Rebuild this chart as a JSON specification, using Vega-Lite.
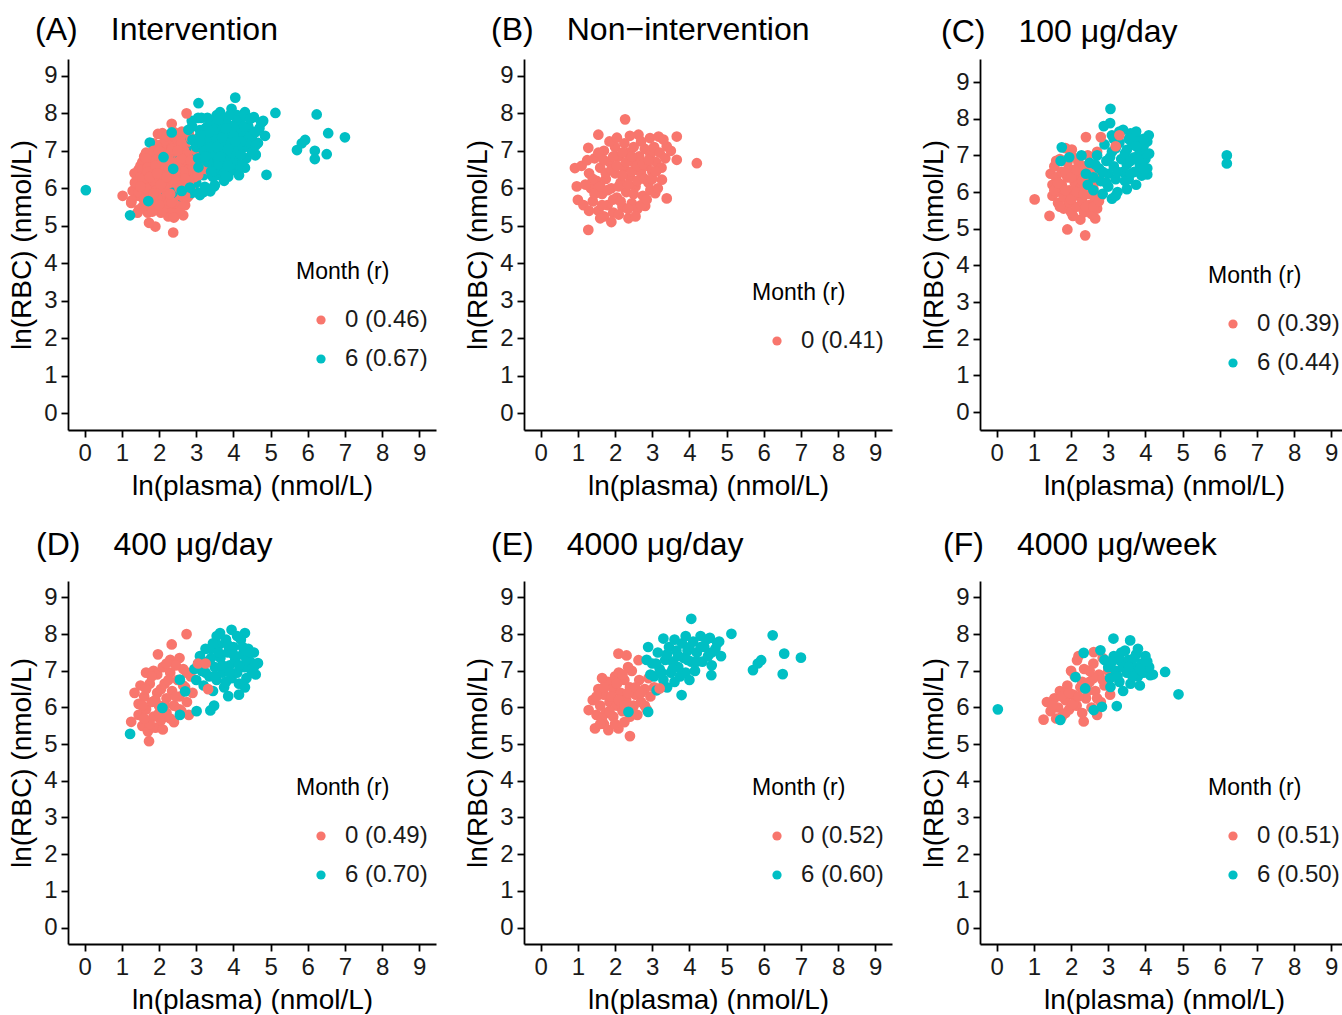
{
"$schema": "https://vega.github.io/schema/vega-lite/v6.json",
"background": "white",
"padding": {"left": 8, "top": 14, "right": 0, "bottom": 0},
"datasets": {"pts": [
{"g":"C","m":"0","x":1.02,"y":5.80},{"g":"C","m":"0","x":1.42,"y":5.35},{"g":"C","m":"0","x":1.90,"y":4.98},{"g":"C","m":"0","x":2.38,"y":4.82},{"g":"C","m":"0","x":2.40,"y":7.50},{"g":"C","m":"0","x":1.85,"y":7.20},{"g":"C","m":"0","x":2.02,"y":7.16},{"g":"C","m":"0","x":2.65,"y":5.28},{"g":"C","m":"0","x":2.25,"y":5.25},{"g":"C","m":"0","x":2.05,"y":5.35},
{"g":"C","m":"0","x":1.45,"y":6.50},{"g":"C","m":"0","x":1.50,"y":6.20},{"g":"C","m":"0","x":1.50,"y":5.90},{"g":"C","m":"0","x":1.55,"y":6.70},{"g":"C","m":"0","x":1.60,"y":6.40},{"g":"C","m":"0","x":1.60,"y":6.00},{"g":"C","m":"0","x":1.65,"y":5.70},{"g":"C","m":"0","x":1.70,"y":6.90},{"g":"C","m":"0","x":1.75,"y":6.55},{"g":"C","m":"0","x":1.75,"y":6.20},{"g":"C","m":"0","x":1.80,"y":5.85},{"g":"C","m":"0","x":1.80,"y":5.55},{"g":"C","m":"0","x":1.90,"y":6.80},{"g":"C","m":"0","x":1.90,"y":6.40},{"g":"C","m":"0","x":1.95,"y":6.05},{"g":"C","m":"0","x":1.95,"y":5.70},{"g":"C","m":"0","x":2.00,"y":5.45},{"g":"C","m":"0","x":2.05,"y":6.95},{"g":"C","m":"0","x":2.05,"y":6.60},{"g":"C","m":"0","x":2.10,"y":6.25},{"g":"C","m":"0","x":2.10,"y":5.90},{"g":"C","m":"0","x":2.15,"y":5.60},{"g":"C","m":"0","x":2.20,"y":6.80},{"g":"C","m":"0","x":2.25,"y":6.45},{"g":"C","m":"0","x":2.25,"y":6.10},{"g":"C","m":"0","x":2.30,"y":5.75},{"g":"C","m":"0","x":2.35,"y":5.45},{"g":"C","m":"0","x":2.40,"y":6.30},{"g":"C","m":"0","x":2.45,"y":5.95},{"g":"C","m":"0","x":2.50,"y":5.65},{"g":"C","m":"0","x":2.55,"y":6.60},{"g":"C","m":"0","x":2.55,"y":5.40},{"g":"C","m":"0","x":2.60,"y":6.10},{"g":"C","m":"0","x":2.65,"y":5.80},{"g":"C","m":"0","x":2.70,"y":5.55},{"g":"C","m":"0","x":2.75,"y":6.40},{"g":"C","m":"0","x":2.80,"y":5.90},{"g":"C","m":"0","x":2.45,"y":7.00},{"g":"C","m":"0","x":2.70,"y":7.10},
{"g":"C","m":"0","x":1.55,"y":6.05},{"g":"C","m":"0","x":1.65,"y":6.25},{"g":"C","m":"0","x":1.70,"y":5.60},{"g":"C","m":"0","x":1.85,"y":6.55},{"g":"C","m":"0","x":1.85,"y":6.05},{"g":"C","m":"0","x":2.00,"y":6.40},{"g":"C","m":"0","x":2.00,"y":5.80},{"g":"C","m":"0","x":2.15,"y":6.60},{"g":"C","m":"0","x":2.15,"y":6.00},{"g":"C","m":"0","x":2.30,"y":6.30},{"g":"C","m":"0","x":2.35,"y":5.95},{"g":"C","m":"0","x":2.40,"y":5.60},{"g":"C","m":"0","x":2.50,"y":6.20},{"g":"C","m":"0","x":2.60,"y":5.60},{"g":"C","m":"0","x":2.65,"y":6.30},{"g":"C","m":"0","x":2.75,"y":5.75},{"g":"C","m":"0","x":1.60,"y":6.85},{"g":"C","m":"0","x":2.35,"y":6.70},
{"g":"C","m":"6","x":3.06,"y":8.27},{"g":"C","m":"6","x":2.88,"y":7.80},{"g":"C","m":"6","x":3.05,"y":7.88},{"g":"C","m":"6","x":4.09,"y":7.55},{"g":"C","m":"6","x":4.05,"y":7.38},{"g":"C","m":"6","x":6.19,"y":7.00},{"g":"C","m":"6","x":6.19,"y":6.78},{"g":"C","m":"6","x":1.75,"y":7.22},{"g":"C","m":"6","x":1.72,"y":6.85},{"g":"C","m":"6","x":1.95,"y":6.95},{"g":"C","m":"6","x":3.10,"y":5.82},{"g":"C","m":"6","x":3.50,"y":6.08},{"g":"C","m":"6","x":4.05,"y":6.48},{"g":"C","m":"6","x":2.28,"y":7.00},
{"g":"C","m":"6","x":2.40,"y":6.50},{"g":"C","m":"6","x":2.45,"y":6.20},{"g":"C","m":"6","x":2.50,"y":6.80},{"g":"C","m":"6","x":2.60,"y":6.40},{"g":"C","m":"6","x":2.60,"y":6.05},{"g":"C","m":"6","x":2.70,"y":7.00},{"g":"C","m":"6","x":2.75,"y":6.65},{"g":"C","m":"6","x":2.80,"y":6.30},{"g":"C","m":"6","x":2.85,"y":5.95},{"g":"C","m":"6","x":2.90,"y":7.30},{"g":"C","m":"6","x":2.95,"y":6.85},{"g":"C","m":"6","x":3.00,"y":6.50},{"g":"C","m":"6","x":3.00,"y":6.15},{"g":"C","m":"6","x":3.10,"y":7.55},{"g":"C","m":"6","x":3.10,"y":7.10},{"g":"C","m":"6","x":3.15,"y":6.70},{"g":"C","m":"6","x":3.20,"y":6.35},{"g":"C","m":"6","x":3.25,"y":6.00},{"g":"C","m":"6","x":3.30,"y":7.35},{"g":"C","m":"6","x":3.35,"y":6.90},{"g":"C","m":"6","x":3.40,"y":6.55},{"g":"C","m":"6","x":3.40,"y":7.70},{"g":"C","m":"6","x":3.50,"y":7.15},{"g":"C","m":"6","x":3.50,"y":6.75},{"g":"C","m":"6","x":3.55,"y":6.35},{"g":"C","m":"6","x":3.60,"y":7.60},{"g":"C","m":"6","x":3.65,"y":7.30},{"g":"C","m":"6","x":3.70,"y":6.95},{"g":"C","m":"6","x":3.70,"y":6.55},{"g":"C","m":"6","x":3.75,"y":6.20},{"g":"C","m":"6","x":3.80,"y":7.45},{"g":"C","m":"6","x":3.85,"y":7.10},{"g":"C","m":"6","x":3.85,"y":6.75},{"g":"C","m":"6","x":3.90,"y":6.45},{"g":"C","m":"6","x":3.95,"y":7.25},{"g":"C","m":"6","x":4.00,"y":6.90},{"g":"C","m":"6","x":4.05,"y":6.65},{"g":"C","m":"6","x":4.10,"y":7.05},{"g":"C","m":"6","x":3.30,"y":7.65},{"g":"C","m":"6","x":3.75,"y":7.65},{"g":"C","m":"6","x":3.20,"y":5.90},
{"g":"C","m":"6","x":2.65,"y":6.75},{"g":"C","m":"6","x":2.85,"y":6.55},{"g":"C","m":"6","x":2.95,"y":6.25},{"g":"C","m":"6","x":3.05,"y":6.95},{"g":"C","m":"6","x":3.20,"y":7.20},{"g":"C","m":"6","x":3.25,"y":6.55},{"g":"C","m":"6","x":3.45,"y":7.05},{"g":"C","m":"6","x":3.45,"y":6.30},{"g":"C","m":"6","x":3.60,"y":6.85},{"g":"C","m":"6","x":3.60,"y":6.50},{"g":"C","m":"6","x":3.75,"y":7.25},{"g":"C","m":"6","x":3.80,"y":6.90},{"g":"C","m":"6","x":3.95,"y":6.65},{"g":"C","m":"6","x":3.95,"y":7.45},{"g":"C","m":"6","x":3.55,"y":7.45},{"g":"C","m":"6","x":3.15,"y":7.45},
{"g":"C","m":"0","x":2.80,"y":7.50},{"g":"C","m":"0","x":3.30,"y":7.55},{"g":"C","m":"0","x":3.20,"y":7.25},
{"g":"D","m":"0","x":2.74,"y":8.00},{"g":"D","m":"0","x":2.34,"y":7.72},{"g":"D","m":"0","x":1.97,"y":7.45},{"g":"D","m":"0","x":1.34,"y":6.40},{"g":"D","m":"0","x":1.25,"y":5.61},{"g":"D","m":"0","x":1.73,"y":5.08},{"g":"D","m":"0","x":2.55,"y":7.35},{"g":"D","m":"0","x":2.30,"y":7.30},{"g":"D","m":"0","x":1.65,"y":6.95},{"g":"D","m":"0","x":1.85,"y":7.00},
{"g":"D","m":"0","x":1.45,"y":6.10},{"g":"D","m":"0","x":1.45,"y":5.80},{"g":"D","m":"0","x":1.50,"y":6.60},{"g":"D","m":"0","x":1.55,"y":5.50},{"g":"D","m":"0","x":1.60,"y":6.30},{"g":"D","m":"0","x":1.65,"y":5.95},{"g":"D","m":"0","x":1.70,"y":5.35},{"g":"D","m":"0","x":1.75,"y":6.65},{"g":"D","m":"0","x":1.80,"y":6.15},{"g":"D","m":"0","x":1.85,"y":5.75},{"g":"D","m":"0","x":1.90,"y":5.45},{"g":"D","m":"0","x":1.95,"y":6.90},{"g":"D","m":"0","x":1.95,"y":6.40},{"g":"D","m":"0","x":2.00,"y":6.05},{"g":"D","m":"0","x":2.05,"y":5.65},{"g":"D","m":"0","x":2.10,"y":7.10},{"g":"D","m":"0","x":2.15,"y":6.65},{"g":"D","m":"0","x":2.20,"y":6.25},{"g":"D","m":"0","x":2.20,"y":5.85},{"g":"D","m":"0","x":2.30,"y":6.95},{"g":"D","m":"0","x":2.35,"y":6.45},{"g":"D","m":"0","x":2.40,"y":6.05},{"g":"D","m":"0","x":2.40,"y":5.60},{"g":"D","m":"0","x":2.50,"y":6.75},{"g":"D","m":"0","x":2.55,"y":6.30},{"g":"D","m":"0","x":2.60,"y":5.90},{"g":"D","m":"0","x":2.65,"y":7.05},{"g":"D","m":"0","x":2.70,"y":6.55},{"g":"D","m":"0","x":2.75,"y":6.15},{"g":"D","m":"0","x":2.80,"y":5.80},{"g":"D","m":"0","x":2.85,"y":6.85},{"g":"D","m":"0","x":2.90,"y":6.40},{"g":"D","m":"0","x":2.45,"y":7.15},{"g":"D","m":"0","x":2.10,"y":5.40},
{"g":"D","m":"0","x":1.55,"y":6.05},{"g":"D","m":"0","x":1.65,"y":6.50},{"g":"D","m":"0","x":1.75,"y":5.55},{"g":"D","m":"0","x":1.80,"y":6.85},{"g":"D","m":"0","x":1.90,"y":6.20},{"g":"D","m":"0","x":2.00,"y":5.85},{"g":"D","m":"0","x":2.05,"y":6.50},{"g":"D","m":"0","x":2.15,"y":6.05},{"g":"D","m":"0","x":2.25,"y":6.75},{"g":"D","m":"0","x":2.30,"y":5.70},{"g":"D","m":"0","x":2.45,"y":6.30},{"g":"D","m":"0","x":2.55,"y":5.95},{"g":"D","m":"0","x":2.65,"y":6.60},{"g":"D","m":"0","x":2.75,"y":6.95},{"g":"D","m":"0","x":2.20,"y":7.20},{"g":"D","m":"0","x":1.60,"y":5.70},
{"g":"D","m":"6","x":1.22,"y":5.28},{"g":"D","m":"6","x":2.09,"y":5.99},{"g":"D","m":"6","x":2.56,"y":6.76},{"g":"D","m":"6","x":2.70,"y":6.44},{"g":"D","m":"6","x":2.56,"y":5.80},{"g":"D","m":"6","x":3.01,"y":5.90},{"g":"D","m":"6","x":3.38,"y":5.92},{"g":"D","m":"6","x":3.48,"y":6.05},{"g":"D","m":"6","x":3.86,"y":6.31},{"g":"D","m":"6","x":4.31,"y":6.55},{"g":"D","m":"6","x":4.15,"y":6.35},{"g":"D","m":"6","x":3.64,"y":8.03},{"g":"D","m":"6","x":3.95,"y":8.12},{"g":"D","m":"6","x":4.31,"y":8.03},{"g":"D","m":"6","x":4.66,"y":7.21},{"g":"D","m":"6","x":4.60,"y":6.90},{"g":"D","m":"6","x":4.55,"y":7.50},
{"g":"D","m":"6","x":2.95,"y":7.05},{"g":"D","m":"6","x":3.00,"y":6.75},{"g":"D","m":"6","x":3.10,"y":7.40},{"g":"D","m":"6","x":3.15,"y":7.00},{"g":"D","m":"6","x":3.20,"y":6.60},{"g":"D","m":"6","x":3.30,"y":7.25},{"g":"D","m":"6","x":3.35,"y":6.85},{"g":"D","m":"6","x":3.40,"y":7.60},{"g":"D","m":"6","x":3.45,"y":6.45},{"g":"D","m":"6","x":3.50,"y":7.10},{"g":"D","m":"6","x":3.55,"y":6.75},{"g":"D","m":"6","x":3.60,"y":7.70},{"g":"D","m":"6","x":3.65,"y":7.35},{"g":"D","m":"6","x":3.70,"y":6.95},{"g":"D","m":"6","x":3.75,"y":6.55},{"g":"D","m":"6","x":3.80,"y":7.85},{"g":"D","m":"6","x":3.85,"y":7.50},{"g":"D","m":"6","x":3.90,"y":7.15},{"g":"D","m":"6","x":3.95,"y":6.80},{"g":"D","m":"6","x":4.00,"y":7.65},{"g":"D","m":"6","x":4.05,"y":7.30},{"g":"D","m":"6","x":4.10,"y":6.95},{"g":"D","m":"6","x":4.15,"y":6.65},{"g":"D","m":"6","x":4.20,"y":7.85},{"g":"D","m":"6","x":4.25,"y":7.45},{"g":"D","m":"6","x":4.30,"y":7.10},{"g":"D","m":"6","x":4.35,"y":6.80},{"g":"D","m":"6","x":4.40,"y":7.60},{"g":"D","m":"6","x":4.45,"y":7.25},{"g":"D","m":"6","x":4.50,"y":6.95},{"g":"D","m":"6","x":3.25,"y":7.60},{"g":"D","m":"6","x":3.55,"y":7.95},{"g":"D","m":"6","x":4.10,"y":7.95},
{"g":"D","m":"6","x":3.05,"y":7.20},{"g":"D","m":"6","x":3.25,"y":6.95},{"g":"D","m":"6","x":3.40,"y":7.35},{"g":"D","m":"6","x":3.50,"y":6.85},{"g":"D","m":"6","x":3.60,"y":7.50},{"g":"D","m":"6","x":3.70,"y":7.15},{"g":"D","m":"6","x":3.85,"y":7.70},{"g":"D","m":"6","x":3.90,"y":6.95},{"g":"D","m":"6","x":4.00,"y":7.45},{"g":"D","m":"6","x":4.15,"y":7.15},{"g":"D","m":"6","x":4.25,"y":7.65},{"g":"D","m":"6","x":4.35,"y":7.30},{"g":"D","m":"6","x":4.45,"y":7.50},{"g":"D","m":"6","x":3.45,"y":7.75},{"g":"D","m":"6","x":4.55,"y":7.10},{"g":"D","m":"6","x":3.80,"y":6.70},
{"g":"D","m":"0","x":3.32,"y":6.50},{"g":"D","m":"0","x":3.05,"y":7.20},{"g":"D","m":"0","x":3.25,"y":7.20},
{"g":"E","m":"0","x":2.09,"y":7.47},{"g":"E","m":"0","x":2.31,"y":7.42},{"g":"E","m":"0","x":2.63,"y":7.29},{"g":"E","m":"0","x":1.29,"y":5.93},{"g":"E","m":"0","x":1.46,"y":5.43},{"g":"E","m":"0","x":1.82,"y":5.38},{"g":"E","m":"0","x":2.09,"y":5.43},{"g":"E","m":"0","x":2.40,"y":5.22},{"g":"E","m":"0","x":1.70,"y":5.55},{"g":"E","m":"0","x":2.25,"y":5.60},
{"g":"E","m":"0","x":1.40,"y":6.20},{"g":"E","m":"0","x":1.50,"y":5.80},{"g":"E","m":"0","x":1.55,"y":6.50},{"g":"E","m":"0","x":1.60,"y":6.05},{"g":"E","m":"0","x":1.70,"y":6.35},{"g":"E","m":"0","x":1.75,"y":5.85},{"g":"E","m":"0","x":1.80,"y":6.70},{"g":"E","m":"0","x":1.85,"y":6.15},{"g":"E","m":"0","x":1.95,"y":5.75},{"g":"E","m":"0","x":1.95,"y":6.50},{"g":"E","m":"0","x":2.00,"y":6.85},{"g":"E","m":"0","x":2.05,"y":6.05},{"g":"E","m":"0","x":2.15,"y":6.40},{"g":"E","m":"0","x":2.20,"y":5.90},{"g":"E","m":"0","x":2.25,"y":6.75},{"g":"E","m":"0","x":2.30,"y":6.20},{"g":"E","m":"0","x":2.40,"y":5.75},{"g":"E","m":"0","x":2.40,"y":6.55},{"g":"E","m":"0","x":2.45,"y":7.00},{"g":"E","m":"0","x":2.50,"y":6.05},{"g":"E","m":"0","x":2.55,"y":6.35},{"g":"E","m":"0","x":2.60,"y":5.80},{"g":"E","m":"0","x":2.65,"y":6.75},{"g":"E","m":"0","x":2.70,"y":6.15},{"g":"E","m":"0","x":2.80,"y":6.50},{"g":"E","m":"0","x":2.85,"y":5.95},{"g":"E","m":"0","x":2.90,"y":6.80},{"g":"E","m":"0","x":2.95,"y":6.30},{"g":"E","m":"0","x":3.05,"y":6.55},{"g":"E","m":"0","x":1.65,"y":6.80},{"g":"E","m":"0","x":2.35,"y":7.10},{"g":"E","m":"0","x":2.10,"y":6.95},
{"g":"E","m":"0","x":1.50,"y":6.30},{"g":"E","m":"0","x":1.65,"y":5.70},{"g":"E","m":"0","x":1.70,"y":6.55},{"g":"E","m":"0","x":1.90,"y":6.30},{"g":"E","m":"0","x":1.85,"y":5.90},{"g":"E","m":"0","x":2.05,"y":6.65},{"g":"E","m":"0","x":2.10,"y":6.20},{"g":"E","m":"0","x":2.25,"y":6.05},{"g":"E","m":"0","x":2.35,"y":6.40},{"g":"E","m":"0","x":2.55,"y":6.55},{"g":"E","m":"0","x":2.50,"y":5.85},{"g":"E","m":"0","x":2.70,"y":6.40},{"g":"E","m":"0","x":2.80,"y":6.05},{"g":"E","m":"0","x":2.20,"y":6.90},{"g":"E","m":"0","x":1.60,"y":5.55},{"g":"E","m":"0","x":2.00,"y":5.55},
{"g":"E","m":"6","x":4.05,"y":8.42},{"g":"E","m":"6","x":5.13,"y":8.01},{"g":"E","m":"6","x":3.30,"y":7.88},{"g":"E","m":"6","x":2.89,"y":7.65},{"g":"E","m":"6","x":3.79,"y":6.34},{"g":"E","m":"6","x":4.59,"y":6.88},{"g":"E","m":"6","x":2.36,"y":5.88},{"g":"E","m":"6","x":2.89,"y":5.88},{"g":"E","m":"6","x":3.12,"y":6.47},{"g":"E","m":"6","x":6.24,"y":7.97},{"g":"E","m":"6","x":5.71,"y":7.02},{"g":"E","m":"6","x":5.84,"y":7.20},{"g":"E","m":"6","x":5.93,"y":7.29},{"g":"E","m":"6","x":6.55,"y":7.47},{"g":"E","m":"6","x":7.00,"y":7.36},{"g":"E","m":"6","x":6.51,"y":6.91},{"g":"E","m":"6","x":2.85,"y":7.30},{"g":"E","m":"6","x":2.95,"y":6.90},
{"g":"E","m":"6","x":3.00,"y":7.20},{"g":"E","m":"6","x":3.05,"y":6.85},{"g":"E","m":"6","x":3.15,"y":7.50},{"g":"E","m":"6","x":3.20,"y":7.05},{"g":"E","m":"6","x":3.30,"y":6.75},{"g":"E","m":"6","x":3.35,"y":7.30},{"g":"E","m":"6","x":3.45,"y":7.65},{"g":"E","m":"6","x":3.50,"y":6.95},{"g":"E","m":"6","x":3.55,"y":7.25},{"g":"E","m":"6","x":3.60,"y":6.70},{"g":"E","m":"6","x":3.65,"y":7.55},{"g":"E","m":"6","x":3.70,"y":7.10},{"g":"E","m":"6","x":3.80,"y":7.75},{"g":"E","m":"6","x":3.85,"y":7.35},{"g":"E","m":"6","x":3.90,"y":6.95},{"g":"E","m":"6","x":3.95,"y":7.55},{"g":"E","m":"6","x":4.05,"y":7.25},{"g":"E","m":"6","x":4.10,"y":7.80},{"g":"E","m":"6","x":4.15,"y":7.00},{"g":"E","m":"6","x":4.20,"y":7.50},{"g":"E","m":"6","x":4.30,"y":7.95},{"g":"E","m":"6","x":4.35,"y":7.25},{"g":"E","m":"6","x":4.40,"y":7.65},{"g":"E","m":"6","x":4.50,"y":7.40},{"g":"E","m":"6","x":4.55,"y":7.90},{"g":"E","m":"6","x":4.60,"y":7.15},{"g":"E","m":"6","x":4.70,"y":7.60},{"g":"E","m":"6","x":4.80,"y":7.80},{"g":"E","m":"6","x":4.85,"y":7.40},{"g":"E","m":"6","x":4.00,"y":6.75},{"g":"E","m":"6","x":3.40,"y":6.55},
{"g":"E","m":"6","x":3.10,"y":7.20},{"g":"E","m":"6","x":3.25,"y":6.95},{"g":"E","m":"6","x":3.40,"y":7.45},{"g":"E","m":"6","x":3.55,"y":7.05},{"g":"E","m":"6","x":3.70,"y":7.40},{"g":"E","m":"6","x":3.75,"y":6.85},{"g":"E","m":"6","x":3.95,"y":7.30},{"g":"E","m":"6","x":4.00,"y":7.65},{"g":"E","m":"6","x":4.20,"y":7.25},{"g":"E","m":"6","x":4.30,"y":7.65},{"g":"E","m":"6","x":4.45,"y":7.85},{"g":"E","m":"6","x":4.60,"y":7.50},{"g":"E","m":"6","x":4.75,"y":7.75},{"g":"E","m":"6","x":3.90,"y":7.95},{"g":"E","m":"6","x":3.60,"y":7.85},
{"g":"E","m":"0","x":3.20,"y":6.52},
{"g":"F","m":"0","x":1.26,"y":5.67},{"g":"F","m":"0","x":2.34,"y":5.62},{"g":"F","m":"0","x":2.61,"y":7.51},{"g":"F","m":"0","x":2.16,"y":7.29},{"g":"F","m":"0","x":1.35,"y":6.15},{"g":"F","m":"0","x":1.45,"y":5.90},{"g":"F","m":"0","x":1.55,"y":6.25},{"g":"F","m":"0","x":1.65,"y":6.00},{"g":"F","m":"0","x":1.70,"y":6.45},{"g":"F","m":"0","x":1.75,"y":5.75},{"g":"F","m":"0","x":1.85,"y":6.20},{"g":"F","m":"0","x":1.90,"y":6.60},{"g":"F","m":"0","x":1.95,"y":5.95},{"g":"F","m":"0","x":2.05,"y":6.35},{"g":"F","m":"0","x":2.10,"y":6.85},{"g":"F","m":"0","x":2.15,"y":6.05},{"g":"F","m":"0","x":2.25,"y":6.55},{"g":"F","m":"0","x":2.30,"y":5.85},{"g":"F","m":"0","x":2.35,"y":7.05},{"g":"F","m":"0","x":2.40,"y":6.25},{"g":"F","m":"0","x":2.50,"y":6.70},{"g":"F","m":"0","x":2.55,"y":6.00},{"g":"F","m":"0","x":2.60,"y":7.20},{"g":"F","m":"0","x":2.65,"y":6.45},{"g":"F","m":"0","x":2.75,"y":6.90},{"g":"F","m":"0","x":2.80,"y":6.15},{"g":"F","m":"0","x":2.85,"y":7.35},{"g":"F","m":"0","x":2.90,"y":6.60},{"g":"F","m":"0","x":3.00,"y":7.00},{"g":"F","m":"0","x":3.05,"y":6.35},{"g":"F","m":"0","x":2.00,"y":7.00},{"g":"F","m":"0","x":1.60,"y":5.70},{"g":"F","m":"0","x":2.70,"y":5.80},{"g":"F","m":"0","x":2.20,"y":7.40},
{"g":"F","m":"0","x":1.50,"y":6.05},{"g":"F","m":"0","x":1.75,"y":6.30},{"g":"F","m":"0","x":1.95,"y":6.40},{"g":"F","m":"0","x":2.05,"y":6.10},{"g":"F","m":"0","x":2.20,"y":6.30},{"g":"F","m":"0","x":2.30,"y":6.70},{"g":"F","m":"0","x":2.45,"y":6.45},{"g":"F","m":"0","x":2.60,"y":6.80},{"g":"F","m":"0","x":2.70,"y":6.25},{"g":"F","m":"0","x":2.85,"y":6.75},{"g":"F","m":"0","x":2.50,"y":7.00},{"g":"F","m":"0","x":1.85,"y":5.85},
{"g":"F","m":"6","x":0.03,"y":5.95},{"g":"F","m":"6","x":3.14,"y":7.88},{"g":"F","m":"6","x":3.59,"y":7.83},{"g":"F","m":"6","x":2.34,"y":7.49},{"g":"F","m":"6","x":2.79,"y":7.56},{"g":"F","m":"6","x":4.53,"y":6.97},{"g":"F","m":"6","x":4.89,"y":6.36},{"g":"F","m":"6","x":4.13,"y":6.88},{"g":"F","m":"6","x":2.12,"y":6.83},{"g":"F","m":"6","x":2.38,"y":6.52},{"g":"F","m":"6","x":2.61,"y":5.93},{"g":"F","m":"6","x":2.83,"y":6.02},{"g":"F","m":"6","x":3.23,"y":6.04},{"g":"F","m":"6","x":1.71,"y":5.66},{"g":"F","m":"6","x":3.06,"y":6.56},
{"g":"F","m":"6","x":3.00,"y":7.10},{"g":"F","m":"6","x":3.05,"y":6.80},{"g":"F","m":"6","x":3.15,"y":7.40},{"g":"F","m":"6","x":3.20,"y":7.00},{"g":"F","m":"6","x":3.30,"y":6.70},{"g":"F","m":"6","x":3.35,"y":7.25},{"g":"F","m":"6","x":3.45,"y":7.55},{"g":"F","m":"6","x":3.50,"y":6.95},{"g":"F","m":"6","x":3.55,"y":7.30},{"g":"F","m":"6","x":3.60,"y":6.65},{"g":"F","m":"6","x":3.70,"y":7.10},{"g":"F","m":"6","x":3.75,"y":7.45},{"g":"F","m":"6","x":3.80,"y":6.85},{"g":"F","m":"6","x":3.90,"y":7.20},{"g":"F","m":"6","x":3.95,"y":6.95},{"g":"F","m":"6","x":4.00,"y":7.40},{"g":"F","m":"6","x":4.10,"y":7.10},{"g":"F","m":"6","x":3.40,"y":6.45},{"g":"F","m":"6","x":2.90,"y":7.30},{"g":"F","m":"6","x":3.85,"y":6.60},{"g":"F","m":"6","x":4.20,"y":6.90},
{"g":"F","m":"6","x":3.10,"y":7.25},{"g":"F","m":"6","x":3.25,"y":6.85},{"g":"F","m":"6","x":3.40,"y":7.10},{"g":"F","m":"6","x":3.55,"y":7.10},{"g":"F","m":"6","x":3.65,"y":6.85},{"g":"F","m":"6","x":3.70,"y":7.35},{"g":"F","m":"6","x":3.85,"y":7.05},{"g":"F","m":"6","x":4.05,"y":7.25},{"g":"F","m":"6","x":3.35,"y":7.50},{"g":"F","m":"6","x":3.80,"y":7.60},
{"g":"B","m":"0","x":2.27,"y":7.84},{"g":"B","m":"0","x":0.92,"y":6.54},{"g":"B","m":"0","x":0.97,"y":6.05},{"g":"B","m":"0","x":1.00,"y":5.69},{"g":"B","m":"0","x":1.28,"y":4.89},{"g":"B","m":"0","x":2.36,"y":5.20},{"g":"B","m":"0","x":2.81,"y":5.53},{"g":"B","m":"0","x":3.39,"y":5.73},{"g":"B","m":"0","x":3.66,"y":7.38},{"g":"B","m":"0","x":3.66,"y":6.76},{"g":"B","m":"0","x":4.20,"y":6.67},{"g":"B","m":"0","x":3.26,"y":6.23},{"g":"B","m":"0","x":3.08,"y":5.87},{"g":"B","m":"0","x":1.55,"y":7.43},{"g":"B","m":"0","x":2.63,"y":7.43},{"g":"B","m":"0","x":2.94,"y":7.34},{"g":"B","m":"0","x":3.17,"y":7.38},{"g":"B","m":"0","x":3.39,"y":7.12},{"g":"B","m":"0","x":1.28,"y":7.08},{"g":"B","m":"0","x":1.10,"y":6.60},{"g":"B","m":"0","x":1.15,"y":5.55},{"g":"B","m":"0","x":1.70,"y":5.25},
{"g":"B","m":"0","x":1.30,"y":6.40},{"g":"B","m":"0","x":1.35,"y":6.00},{"g":"B","m":"0","x":1.40,"y":5.65},{"g":"B","m":"0","x":1.45,"y":6.80},{"g":"B","m":"0","x":1.50,"y":6.20},{"g":"B","m":"0","x":1.55,"y":5.40},{"g":"B","m":"0","x":1.60,"y":6.55},{"g":"B","m":"0","x":1.65,"y":5.85},{"g":"B","m":"0","x":1.70,"y":7.00},{"g":"B","m":"0","x":1.75,"y":6.25},{"g":"B","m":"0","x":1.80,"y":5.55},{"g":"B","m":"0","x":1.85,"y":6.70},{"g":"B","m":"0","x":1.90,"y":6.00},{"g":"B","m":"0","x":1.95,"y":5.35},{"g":"B","m":"0","x":2.00,"y":7.10},{"g":"B","m":"0","x":2.00,"y":6.40},{"g":"B","m":"0","x":2.05,"y":5.75},{"g":"B","m":"0","x":2.10,"y":6.85},{"g":"B","m":"0","x":2.15,"y":6.15},{"g":"B","m":"0","x":2.20,"y":5.50},{"g":"B","m":"0","x":2.25,"y":7.20},{"g":"B","m":"0","x":2.25,"y":6.55},{"g":"B","m":"0","x":2.30,"y":5.90},{"g":"B","m":"0","x":2.35,"y":6.95},{"g":"B","m":"0","x":2.40,"y":6.30},{"g":"B","m":"0","x":2.45,"y":5.60},{"g":"B","m":"0","x":2.50,"y":7.10},{"g":"B","m":"0","x":2.50,"y":6.70},{"g":"B","m":"0","x":2.55,"y":6.05},{"g":"B","m":"0","x":2.60,"y":5.45},{"g":"B","m":"0","x":2.65,"y":6.85},{"g":"B","m":"0","x":2.70,"y":6.40},{"g":"B","m":"0","x":2.75,"y":5.80},{"g":"B","m":"0","x":2.80,"y":7.05},{"g":"B","m":"0","x":2.85,"y":6.60},{"g":"B","m":"0","x":2.90,"y":6.15},{"g":"B","m":"0","x":2.95,"y":6.90},{"g":"B","m":"0","x":3.00,"y":6.45},{"g":"B","m":"0","x":3.05,"y":7.10},{"g":"B","m":"0","x":3.10,"y":6.70},{"g":"B","m":"0","x":3.20,"y":6.95},{"g":"B","m":"0","x":3.25,"y":6.55},{"g":"B","m":"0","x":2.10,"y":5.30},{"g":"B","m":"0","x":1.85,"y":7.25},{"g":"B","m":"0","x":2.70,"y":7.25},{"g":"B","m":"0","x":1.60,"y":5.20},
{"g":"B","m":"0","x":1.40,"y":6.25},{"g":"B","m":"0","x":1.45,"y":5.85},{"g":"B","m":"0","x":1.55,"y":6.95},{"g":"B","m":"0","x":1.60,"y":6.05},{"g":"B","m":"0","x":1.65,"y":5.55},{"g":"B","m":"0","x":1.70,"y":6.75},{"g":"B","m":"0","x":1.75,"y":6.40},{"g":"B","m":"0","x":1.80,"y":5.95},{"g":"B","m":"0","x":1.90,"y":6.50},{"g":"B","m":"0","x":1.95,"y":6.85},{"g":"B","m":"0","x":1.95,"y":5.70},{"g":"B","m":"0","x":2.05,"y":6.60},{"g":"B","m":"0","x":2.10,"y":6.05},{"g":"B","m":"0","x":2.15,"y":5.65},{"g":"B","m":"0","x":2.20,"y":6.95},{"g":"B","m":"0","x":2.20,"y":6.35},{"g":"B","m":"0","x":2.30,"y":6.70},{"g":"B","m":"0","x":2.35,"y":6.10},{"g":"B","m":"0","x":2.35,"y":5.45},{"g":"B","m":"0","x":2.45,"y":6.85},{"g":"B","m":"0","x":2.45,"y":6.45},{"g":"B","m":"0","x":2.50,"y":5.85},{"g":"B","m":"0","x":2.55,"y":5.25},{"g":"B","m":"0","x":2.60,"y":6.60},{"g":"B","m":"0","x":2.60,"y":6.20},{"g":"B","m":"0","x":2.70,"y":5.55},{"g":"B","m":"0","x":2.75,"y":6.65},{"g":"B","m":"0","x":2.80,"y":6.25},{"g":"B","m":"0","x":2.85,"y":5.70},{"g":"B","m":"0","x":2.90,"y":6.75},{"g":"B","m":"0","x":2.95,"y":5.95},{"g":"B","m":"0","x":3.00,"y":6.25},{"g":"B","m":"0","x":3.10,"y":6.45},{"g":"B","m":"0","x":3.15,"y":6.00},{"g":"B","m":"0","x":2.05,"y":7.35},{"g":"B","m":"0","x":2.40,"y":7.40},{"g":"B","m":"0","x":1.25,"y":6.75},{"g":"B","m":"0","x":1.20,"y":6.10},{"g":"B","m":"0","x":1.30,"y":5.40},{"g":"B","m":"0","x":3.35,"y":6.80},{"g":"B","m":"0","x":3.30,"y":7.30},{"g":"B","m":"0","x":3.50,"y":7.00},{"g":"B","m":"0","x":1.90,"y":5.10}
]},
"resolve": {"scale": {"color": "independent", "x": "independent", "y": "independent"}, "legend": {"color": "independent"}},
"spacing": 29,
"vconcat": [
{"hconcat": [
 {"width": 368, "height": 371, "data": {"name": "pts"},
  "title": {"text": "(A)\u00a0\u00a0\u00a0\u2009Intervention", "dx": -33, "offset": 12},
  "transform": [{"filter": "datum.g != 'B'"}],
  "mark": {"type": "circle", "size": 115, "opacity": 1},
  "encoding": {
   "x": {"field": "x", "type": "quantitative", "scale": {"domain": [-0.45, 9.45], "nice": false, "zero": false}, "axis": {"values": [0,1,2,3,4,5,6,7,8,9], "title": "ln(plasma) (nmol/L)"}},
   "y": {"field": "y", "type": "quantitative", "scale": {"domain": [-0.45, 9.45], "nice": false, "zero": false}, "axis": {"values": [0,1,2,3,4,5,6,7,8,9], "title": "ln(RBC) (nmol/L)"}},
   "color": {"field": "m", "type": "nominal", "scale": {"domain": ["0","6"], "range": ["#F8766D","#00BFC4"]}, "legend": {"title": "Month (r)", "orient": "none", "legendX": 228, "legendY": 202, "labelExpr": "datum.label == '0' ? '0 (0.46)' : '6 (0.67)'"}}
  }},
 {"width": 368, "height": 371, "data": {"name": "pts"},
  "title": {"text": "(B)\u00a0\u00a0\u00a0\u2009Non\u2212intervention", "dx": -33, "offset": 12},
  "transform": [{"filter": "datum.g == 'B'"}],
  "mark": {"type": "circle", "size": 115, "opacity": 1},
  "encoding": {
   "x": {"field": "x", "type": "quantitative", "scale": {"domain": [-0.45, 9.45], "nice": false, "zero": false}, "axis": {"values": [0,1,2,3,4,5,6,7,8,9], "title": "ln(plasma) (nmol/L)"}},
   "y": {"field": "y", "type": "quantitative", "scale": {"domain": [-0.45, 9.45], "nice": false, "zero": false}, "axis": {"values": [0,1,2,3,4,5,6,7,8,9], "title": "ln(RBC) (nmol/L)"}},
   "color": {"field": "m", "type": "nominal", "scale": {"domain": ["0"], "range": ["#F8766D"]}, "legend": {"title": "Month (r)", "orient": "none", "legendX": 228, "legendY": 223, "labelExpr": "'0 (0.41)'"}}
  }},
 {"width": 368, "height": 371, "data": {"name": "pts"},
  "title": {"text": "(C)\u00a0\u00a0\u00a0\u2009100 \u03bcg/day", "dx": -39, "offset": 10},
  "transform": [{"filter": "datum.g == 'C'"}],
  "mark": {"type": "circle", "size": 115, "opacity": 1},
  "encoding": {
   "x": {"field": "x", "type": "quantitative", "scale": {"domain": [-0.45, 9.45], "nice": false, "zero": false}, "axis": {"values": [0,1,2,3,4,5,6,7,8,9], "title": "ln(plasma) (nmol/L)"}},
   "y": {"field": "y", "type": "quantitative", "scale": {"domain": [-0.49, 9.63], "nice": false, "zero": false}, "axis": {"values": [0,1,2,3,4,5,6,7,8,9], "title": "ln(RBC) (nmol/L)"}},
   "color": {"field": "m", "type": "nominal", "scale": {"domain": ["0","6"], "range": ["#F8766D","#00BFC4"]}, "legend": {"title": "Month (r)", "orient": "none", "legendX": 228, "legendY": 206, "labelExpr": "datum.label == '0' ? '0 (0.39)' : '6 (0.44)'"}}
  }}
], "spacing": 28, "resolve": {"scale": {"color": "independent", "x": "independent", "y": "independent"}, "legend": {"color": "independent"}}},
{"hconcat": [
 {"width": 368, "height": 363, "data": {"name": "pts"},
  "title": {"text": "(D)\u00a0\u00a0\u00a0\u2009400 \u03bcg/day", "dx": -32, "offset": 19},
  "transform": [{"filter": "datum.g == 'D'"}],
  "mark": {"type": "circle", "size": 115, "opacity": 1},
  "encoding": {
   "x": {"field": "x", "type": "quantitative", "scale": {"domain": [-0.45, 9.45], "nice": false, "zero": false}, "axis": {"values": [0,1,2,3,4,5,6,7,8,9], "title": "ln(plasma) (nmol/L)"}},
   "y": {"field": "y", "type": "quantitative", "scale": {"domain": [-0.45, 9.45], "nice": false, "zero": false}, "axis": {"values": [0,1,2,3,4,5,6,7,8,9], "title": "ln(RBC) (nmol/L)"}},
   "color": {"field": "m", "type": "nominal", "scale": {"domain": ["0","6"], "range": ["#F8766D","#00BFC4"]}, "legend": {"title": "Month (r)", "orient": "none", "legendX": 228, "legendY": 196, "labelExpr": "datum.label == '0' ? '0 (0.49)' : '6 (0.70)'"}}
  }},
 {"width": 368, "height": 363, "data": {"name": "pts"},
  "title": {"text": "(E)\u00a0\u00a0\u00a0\u20094000 \u03bcg/day", "dx": -33, "offset": 19},
  "transform": [{"filter": "datum.g == 'E'"}],
  "mark": {"type": "circle", "size": 115, "opacity": 1},
  "encoding": {
   "x": {"field": "x", "type": "quantitative", "scale": {"domain": [-0.45, 9.45], "nice": false, "zero": false}, "axis": {"values": [0,1,2,3,4,5,6,7,8,9], "title": "ln(plasma) (nmol/L)"}},
   "y": {"field": "y", "type": "quantitative", "scale": {"domain": [-0.45, 9.45], "nice": false, "zero": false}, "axis": {"values": [0,1,2,3,4,5,6,7,8,9], "title": "ln(RBC) (nmol/L)"}},
   "color": {"field": "m", "type": "nominal", "scale": {"domain": ["0","6"], "range": ["#F8766D","#00BFC4"]}, "legend": {"title": "Month (r)", "orient": "none", "legendX": 228, "legendY": 196, "labelExpr": "datum.label == '0' ? '0 (0.52)' : '6 (0.60)'"}}
  }},
 {"width": 368, "height": 363, "data": {"name": "pts"},
  "title": {"text": "(F)\u00a0\u00a0\u00a0\u20094000 \u03bcg/week", "dx": -37, "offset": 19},
  "transform": [{"filter": "datum.g == 'F'"}],
  "mark": {"type": "circle", "size": 115, "opacity": 1},
  "encoding": {
   "x": {"field": "x", "type": "quantitative", "scale": {"domain": [-0.45, 9.45], "nice": false, "zero": false}, "axis": {"values": [0,1,2,3,4,5,6,7,8,9], "title": "ln(plasma) (nmol/L)"}},
   "y": {"field": "y", "type": "quantitative", "scale": {"domain": [-0.45, 9.45], "nice": false, "zero": false}, "axis": {"values": [0,1,2,3,4,5,6,7,8,9], "title": "ln(RBC) (nmol/L)"}},
   "color": {"field": "m", "type": "nominal", "scale": {"domain": ["0","6"], "range": ["#F8766D","#00BFC4"]}, "legend": {"title": "Month (r)", "orient": "none", "legendX": 228, "legendY": 196, "labelExpr": "datum.label == '0' ? '0 (0.51)' : '6 (0.50)'"}}
  }}
], "spacing": 28, "resolve": {"scale": {"color": "independent", "x": "independent", "y": "independent"}, "legend": {"color": "independent"}}}
],
"config": {
 "font": "Liberation Sans",
 "view": {"stroke": null},
 "axis": {"grid": false, "domainColor": "#000", "domainWidth": 1.8, "tickColor": "#000", "tickWidth": 1.8, "tickSize": 7, "labelFontSize": 24, "labelColor": "#1a1a1a", "labelPadding": 4, "labelFlush": false, "labelOverlap": false, "titleFontSize": 28, "titleFontWeight": "normal", "titleColor": "#000"},
 "axisX": {"titlePadding": 7},
 "axisY": {"titlePadding": 7},
 "legend": {"titleFontSize": 23, "titleFontWeight": "normal", "titleColor": "#000", "labelFontSize": 24, "labelColor": "#1a1a1a", "symbolType": "circle", "symbolSize": 85, "symbolStrokeWidth": 0, "symbolOpacity": 1, "rowPadding": 15, "titlePadding": 24, "labelOffset": 12, "symbolOffset": 13, "padding": 0},
 "title": {"fontSize": 32, "fontWeight": "normal", "anchor": "start", "frame": "group", "color": "#000"}
}
}
